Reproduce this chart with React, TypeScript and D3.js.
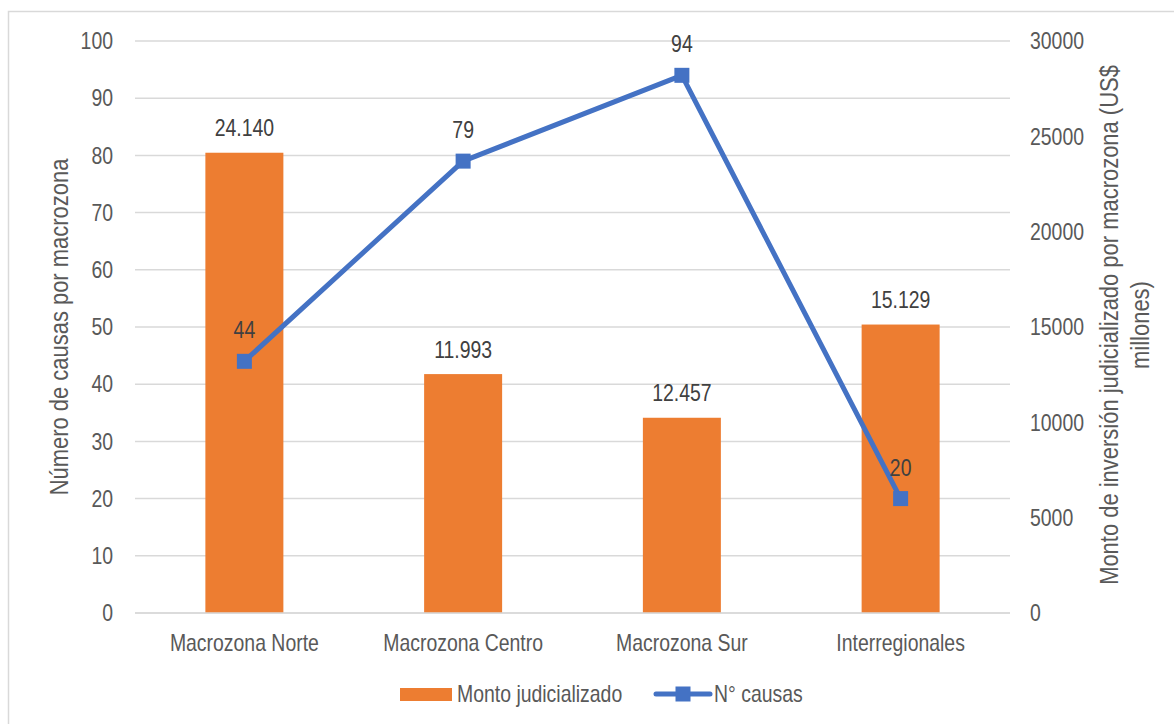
import React from "react";
import * as d3 from "d3";

const categories = ["Macrozona Norte", "Macrozona Centro", "Macrozona Sur", "Interregionales"];
const montoValues = [24140, 12530, 10240, 15129];
const montoLabels = ["24.140", "11.993", "12.457", "15.129"];
const causasValues = [44, 79, 94, 20];
const leftTicks = [0, 10, 20, 30, 40, 50, 60, 70, 80, 90, 100];
const rightTicks = [0, 5000, 10000, 15000, 20000, 25000, 30000];

const W = 1174;
const H = 724;
const FONT = "'Liberation Sans', Arial, sans-serif";
const ORANGE = "#ED7D31";
const BLUE = "#4472C4";
const SX = 0.845;

type TProps = {
  x: number;
  y: number;
  anchor?: "start" | "middle" | "end";
  size: number;
  fill: string;
  rotate?: boolean;
  dy?: string;
  children: React.ReactNode;
};

function T({ x, y, anchor = "start", size, fill, rotate = false, dy, children }: TProps) {
  const tr = `translate(${x},${y})${rotate ? " rotate(-90)" : ""} scale(${SX},1)`;
  return (
    <text transform={tr} textAnchor={anchor} fontSize={size} fill={fill} dy={dy}>
      {children}
    </text>
  );
}

export default function App() {
  const plot = { left: 135, right: 1010, top: 41, bottom: 613 };
  const x = d3.scaleBand<string>().domain(categories).range([plot.left, plot.right]).paddingInner(0.648).paddingOuter(0.324);
  const yL = d3.scaleLinear().domain([0, 100]).range([plot.bottom, plot.top]);
  const yR = d3.scaleLinear().domain([0, 30000]).range([plot.bottom, plot.top]);
  const cx = (c: string) => (x(c) as number) + x.bandwidth() / 2;
  const line = d3.line<number>().x((_, i) => cx(categories[i])).y((d) => yL(d));
  const fs = 23;
  const tfs = 26;

  return (
    <svg width={W} height={H} style={{ position: "absolute", left: 0, top: 0, background: "#fff" }} fontFamily={FONT}>
      <rect x={8.5} y={11.5} width={1200} height={800} fill="#fff" stroke="#d9d9d9" strokeWidth={1.5} />
      {leftTicks.map((t) => (
        <line key={t} x1={plot.left} x2={plot.right} y1={yL(t)} y2={yL(t)} stroke="#d9d9d9" strokeWidth={1.5} />
      ))}
      {leftTicks.map((t) => (
        <T key={"l" + t} x={113} y={yL(t)} dy="0.36em" anchor="end" size={fs} fill="#595959">{t}</T>
      ))}
      {rightTicks.map((t) => (
        <T key={"r" + t} x={1030} y={yR(t)} dy="0.36em" anchor="start" size={fs} fill="#595959">{t}</T>
      ))}
      {categories.map((c, i) => (
        <rect key={c} x={cx(c) - 39} width={78} y={yR(montoValues[i])} height={plot.bottom - yR(montoValues[i])} fill={ORANGE} />
      ))}
      <line x1={plot.left} x2={plot.right} y1={plot.bottom} y2={plot.bottom} stroke="#d9d9d9" strokeWidth={1.5} />
      {categories.map((c) => (
        <T key={"c" + c} x={cx(c)} y={651} anchor="middle" size={fs} fill="#595959">{c}</T>
      ))}
      {categories.map((c, i) => (
        <T key={"ml" + c} x={cx(c)} y={yR(montoValues[i]) - 16.5} anchor="middle" size={fs} fill="#404040">{montoLabels[i]}</T>
      ))}
      <path d={line(causasValues) || ""} fill="none" stroke={BLUE} strokeWidth={5} strokeLinejoin="round" />
      {categories.map((c, i) => (
        <rect key={"m" + c} x={cx(c) - 7.5} y={yL(causasValues[i]) - 7.5} width={15} height={15} fill={BLUE} />
      ))}
      {categories.map((c, i) => (
        <T key={"cl" + c} x={cx(c)} y={yL(causasValues[i]) - 23} anchor="middle" size={fs} fill="#404040">{causasValues[i]}</T>
      ))}
      <T x={68} y={327} rotate anchor="middle" size={tfs} fill="#595959">Número de causas por macrozona</T>
      <T x={1118} y={325} rotate anchor="middle" size={tfs} fill="#595959">Monto de inversión judicializado por macrozona (US$</T>
      <T x={1149} y={325} rotate anchor="middle" size={tfs} fill="#595959">millones)</T>
      <rect x={400} y={688} width={52} height={13} fill={ORANGE} />
      <T x={457} y={694} dy="0.36em" size={fs} fill="#595959">Monto judicializado</T>
      <line x1={656} x2={710} y1={694} y2={694} stroke={BLUE} strokeWidth={5} strokeLinecap="round" />
      <rect x={675.5} y={686.5} width={15} height={15} fill={BLUE} />
      <T x={714} y={694} dy="0.36em" size={fs} fill="#595959">N° causas</T>
    </svg>
  );
}
